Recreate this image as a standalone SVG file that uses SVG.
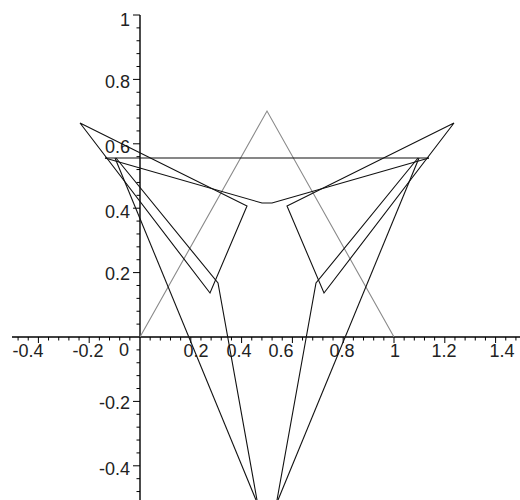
<svg xmlns="http://www.w3.org/2000/svg" width="520" height="500" viewBox="0 0 520 500">
<style>
.ax{stroke:#000;stroke-width:1.4;fill:none}
.tk{stroke:#000;stroke-width:1;fill:none}
.ln{stroke:#111;stroke-width:1.1;fill:none;stroke-linejoin:miter}
.gr{stroke:#8a8a8a;stroke-width:1.1;fill:none}
.lb{font-family:"Liberation Sans",Arial,sans-serif;font-size:18px;fill:#222}
</style>
<rect width="520" height="500" fill="#fff"/>
<g id="axes">
<path class="ax" d="M12,337H520M140,15V500"/>
<path class="tk" d="M18.08,337v3.5M28.24,337v3.5M38.4,337v6M48.56,337v3.5M58.72,337v3.5M68.88,337v3.5M79.04,337v3.5M89.2,337v6M99.36,337v3.5M109.52,337v3.5M119.68,337v3.5M129.84,337v3.5M150.16,337v3.5M160.32,337v3.5M170.48,337v3.5M180.64,337v3.5M190.8,337v6M200.96,337v3.5M211.12,337v3.5M221.28,337v3.5M231.44,337v3.5M241.6,337v6M251.76,337v3.5M261.92,337v3.5M272.08,337v3.5M282.24,337v3.5M292.4,337v6M302.56,337v3.5M312.72,337v3.5M322.88,337v3.5M333.04,337v3.5M343.2,337v6M353.36,337v3.5M363.52,337v3.5M373.68,337v3.5M383.84,337v3.5M394,337v6M404.16,337v3.5M414.32,337v3.5M424.48,337v3.5M434.64,337v3.5M444.8,337v6M454.96,337v3.5M465.12,337v3.5M475.28,337v3.5M485.44,337v3.5M495.6,337v6M505.76,337v3.5M515.92,337v3.5"/>
<path class="tk" d="M140,15h-7M140,27.88h-3.5M140,40.76h-3.5M140,53.64h-3.5M140,66.52h-3.5M140,79.4h-7M140,92.28h-3.5M140,105.16h-3.5M140,118.04h-3.5M140,130.92h-3.5M140,143.8h-7M140,156.68h-3.5M140,169.56h-3.5M140,182.44h-3.5M140,195.32h-3.5M140,208.2h-7M140,221.08h-3.5M140,233.96h-3.5M140,246.84h-3.5M140,259.72h-3.5M140,272.6h-7M140,285.48h-3.5M140,298.36h-3.5M140,311.24h-3.5M140,324.12h-3.5M140,349.88h-3.5M140,362.76h-3.5M140,375.64h-3.5M140,388.52h-3.5M140,401.4h-7M140,414.28h-3.5M140,427.16h-3.5M140,440.04h-3.5M140,452.92h-3.5M140,465.8h-7M140,478.68h-3.5M140,491.56h-3.5"/>
</g>
<g id="x-labels" class="lb" text-anchor="middle">
<text x="28" y="357">-0.4</text>
<text x="88" y="357">-0.2</text>
<text x="124" y="356">0</text>
<text x="196" y="357">0.2</text>
<text x="239" y="357">0.4</text>
<text x="281" y="357">0.6</text>
<text x="342" y="357">0.8</text>
<text x="395" y="357">1</text>
<text x="444" y="357">1.2</text>
<text x="502" y="357">1.4</text>
</g>
<g id="y-labels" class="lb" text-anchor="end">
<text x="130" y="26">1</text>
<text x="130" y="88">0.8</text>
<text x="130" y="153">0.6</text>
<text x="130" y="218">0.4</text>
<text x="130" y="280">0.2</text>
<text x="130" y="409">-0.2</text>
<text x="130" y="475">-0.4</text>
</g>
<g id="curves">
<polyline class="gr" points="140,337 267,111 394,337"/>
<line class="ln" x1="105" y1="158" x2="429" y2="158"/>
<polygon class="ln" points="80,123 247,206 210,293"/>
<polygon class="ln" points="454,123 287,206 324,293"/>
<polyline class="ln" points="105,158 262,203 272,203 429,158"/>
<polyline class="ln" points="116,158 218,283 257,500"/>
<polyline class="ln" points="418,158 316,283 277,500"/>
<line class="ln" x1="115" y1="158" x2="256" y2="500"/>
<line class="ln" x1="419" y1="158" x2="278" y2="500"/>
</g>
</svg>
